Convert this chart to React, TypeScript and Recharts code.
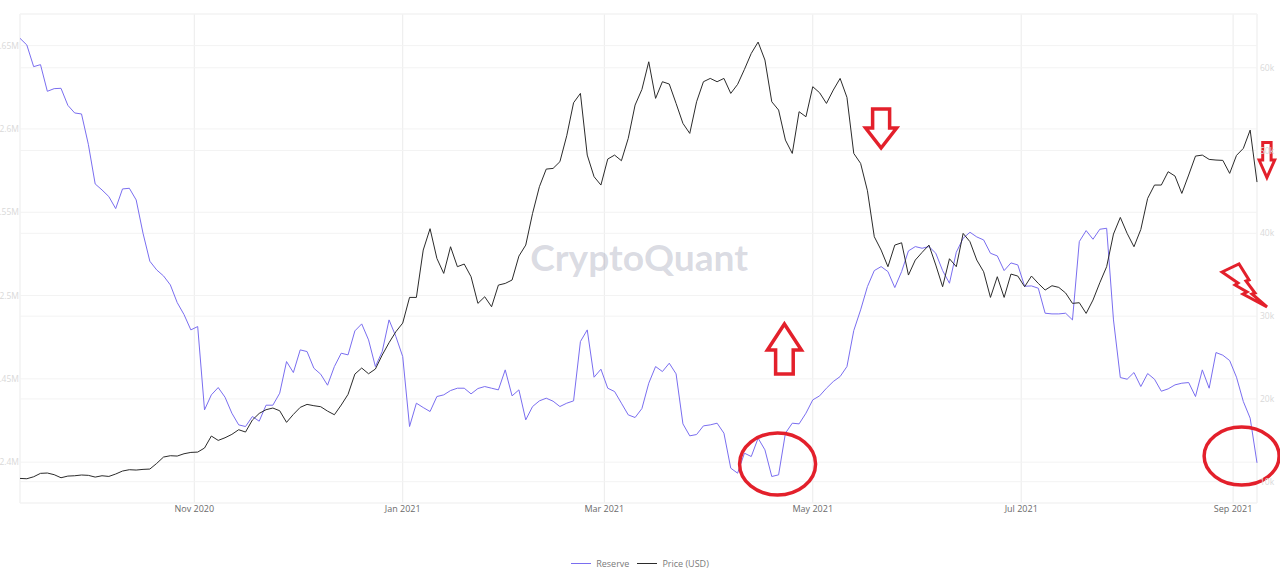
import React from "react";
import {
    LineChart,
    Line,
    XAxis,
    YAxis,
    CartesianGrid,
    Legend,
    ReferenceDot,
} from "recharts";

// one point every 2 days, starting 11 Sep 2020
const START = Date.UTC(2020, 8, 11);
const DAY = 86400000;
const STEP_DAYS = 2;
const LAST_DAY = 362;

// exchange reserve, millions of BTC
const reserve = [
    2.6544, 2.6504, 2.6374, 2.6386, 2.6226, 2.6242, 2.6244, 2.6142, 2.6096, 2.609,
    2.5908, 2.567, 2.5634, 2.5594, 2.5522, 2.564, 2.5644, 2.5574, 2.5374, 2.5206,
    2.5154, 2.5118, 2.5064, 2.4958, 2.4886, 2.4794, 2.4814, 2.4314, 2.4404, 2.4448,
    2.439, 2.4294, 2.4224, 2.4214, 2.4274, 2.4246, 2.4342, 2.4342, 2.4414, 2.4604,
    2.4538, 2.4674, 2.4664, 2.4564, 2.4528, 2.4462, 2.4574, 2.4654, 2.4644, 2.4788,
    2.483, 2.4734, 2.4574, 2.4664, 2.4854, 2.4754, 2.4634, 2.4214, 2.4354, 2.4328,
    2.4304,
    2.4394, 2.4404, 2.443, 2.4444, 2.4444, 2.441, 2.4442, 2.4454, 2.4444, 2.4434,
    2.4554, 2.4398, 2.4434, 2.4254, 2.4334, 2.4368, 2.4384, 2.4366, 2.4334, 2.4354,
    2.4368, 2.4724, 2.4794, 2.451, 2.4558, 2.4444, 2.4424, 2.4354, 2.4284, 2.4268,
    2.4322, 2.4474, 2.4574, 2.4544, 2.4594, 2.453, 2.423, 2.4158, 2.4166, 2.4218,
    2.4224, 2.4234, 2.4174, 2.3964, 2.3934, 2.4054, 2.4034, 2.4144, 2.4074, 2.3914,
    2.3924, 2.4174, 2.4234, 2.423, 2.4294, 2.4374, 2.4398, 2.4444, 2.4484, 2.4514,
    2.4574, 2.479, 2.4914, 2.5054, 2.515, 2.5174, 2.5144, 2.5048, 2.5144, 2.5268,
    2.5294, 2.5284, 2.5294, 2.5254, 2.515, 2.5074, 2.526, 2.5344, 2.538, 2.5352,
    2.5334, 2.5254, 2.5238, 2.515, 2.5196, 2.5184, 2.5056, 2.5058, 2.5044, 2.4894,
    2.489, 2.489, 2.4894, 2.4854, 2.5324, 2.539, 2.5338, 2.5398, 2.5404, 2.4854,
    2.4508, 2.4498, 2.4538, 2.4454, 2.4532, 2.4498, 2.4426, 2.444, 2.4464, 2.4474,
    2.4478, 2.4394, 2.4554, 2.4444, 2.4658, 2.4642, 2.461, 2.451, 2.4364, 2.4264,
    2.3996,
];

// BTC price, USD
const price = [
    10400, 10360, 10600, 11010, 11050, 10850, 10480, 10680, 10720, 10810,
    10770, 10560, 10720, 10640, 10930, 11290, 11450, 11410, 11490, 11530,
    12210, 12980, 13140, 13100, 13380, 13540, 13580, 14070, 15520, 14990,
    15310, 15720, 16280, 16000, 17450, 18250, 18700, 18900, 18570, 17170,
    18130, 18980, 19340, 19180, 19060, 18530, 18090, 19260, 20550, 23000,
    23730, 23040, 23610, 25300, 26790, 28120, 29160, 32260, 32260, 37980,
    40560,
    36970, 35160, 38380, 35970, 36290, 34760, 31540, 32340, 31130, 33750,
    33950, 34360, 37250, 38580, 42410, 45630, 47760, 47840, 48650, 51790,
    55770, 56900, 49450, 46840, 45830, 48970, 49450, 48770, 51470, 55490,
    57380, 60720, 56300, 58310, 58030, 55690, 53280, 52070, 55890, 58310,
    58710, 58310, 58710, 56900, 57990, 59800, 61730, 63100, 60930, 55890,
    54890, 51260, 49650, 54690, 54080, 57710, 56980, 55690, 57300, 58710,
    56420, 49650, 48450, 45140, 39590, 37980, 35970, 38580, 38860, 34960,
    36770, 37700, 38580, 36170, 33550, 36930, 35970, 39990, 38990, 36770,
    35360, 32260, 34760, 32260, 35080, 34840, 33550, 34840, 33950, 33150,
    33670, 33470, 32790, 31540, 31620, 30330, 31940, 34030, 35970, 39910,
    41920, 39990, 38380, 40470, 44220, 45830, 45830, 47440, 46920, 44820,
    47040, 49330, 49450, 48930, 48850, 48810, 47240, 49410, 50260, 52470,
    46190,
];

const monthTicks = ["2020-11-01", "2021-01-01", "2021-03-01", "2021-05-01", "2021-07-01", "2021-09-01"];
const reserveTicks = [2.4, 2.45, 2.5, 2.55, 2.6, 2.65];
const priceTicks = [10000, 20000, 30000, 40000, 50000, 60000];
const MONTHS = ["Jan", "Feb", "Mar", "Apr", "May", "Jun", "Jul", "Aug", "Sep", "Oct", "Nov", "Dec"];

// hand drawn marks on top of the chart: day offset + price level
const notes = [
    { kind: "arrowDown", day: 252.0, level: 52720 },
    { kind: "arrowUp", day: 223.7, level: 25910 },
    { kind: "ring", day: 221.7, level: 12140 },
    { kind: "ringRight", day: 357.5, level: 13100 },
    { kind: "arrowDownSmall", day: 364.9, level: 48850 },
    { kind: "bolt", day: 358.2, level: 33640 },
];

const RED = "#e3202b";
const RESERVE_COLOR = "#7a6ef0";
const PRICE_COLOR = "#2b2b2b";

const data = reserve.map((r, i) => ({
    t: START + i * STEP_DAYS * DAY,
    reserve: r,
    price: price[i],
}));

function fmtMonth(t: number) {
    const d = new Date(t);
    return `${MONTHS[d.getUTCMonth()]} ${d.getUTCFullYear()}`;
}

function arrowDown(cx: number, cy: number, hw: number, top: number, ww: number, tip: number) {
    return `M${cx - hw},${cy - top} L${cx + hw},${cy - top} L${cx + hw},${cy} L${cx + ww},${cy} L${cx},${cy + tip} L${cx - ww},${cy} L${cx - hw},${cy} Z`;
}

function arrowUp(cx: number, cy: number) {
    return `M${cx},${cy - 26} L${cx + 17},${cy} L${cx + 8.8},${cy} L${cx + 8.8},${cy + 24} L${cx - 8.8},${cy + 24} L${cx - 8.8},${cy} L${cx - 17},${cy} Z`;
}

const BOLT = [
    [-22, -14], [-5, -22], [5, -6], [2, -5], [11, 7], [8, 8], [23, 21],
    [-1, 8], [3, 6], [-9, -1], [-6, -3],
];

function NoteShape(kind: string) {
    return (props: any) => {
        const { cx, cy } = props;
        if (cx == null || cy == null) return <g />;
        const common = { fill: "none", stroke: RED, strokeLinejoin: "miter" as const };
        if (kind === "arrowDown")
            return <path d={arrowDown(cx, cy, 8.5, 19, 15.5, 20)} {...common} strokeWidth={3.5} />;
        if (kind === "arrowDownSmall")
            return <path d={arrowDown(cx, cy, 4.2, 17.5, 7.8, 17.5)} {...common} strokeWidth={3} />;
        if (kind === "arrowUp") return <path d={arrowUp(cx, cy)} {...common} strokeWidth={3.5} />;
        if (kind === "ring") return <ellipse cx={cx} cy={cy} rx={38} ry={31} {...common} strokeWidth={3.5} />;
        if (kind === "ringRight")
            return <ellipse cx={cx} cy={cy} rx={37.5} ry={29} {...common} strokeWidth={3.5} />;
        const pts = BOLT.map(([x, y]) => `${cx + x},${cy + y}`).join(" ");
        return <polygon points={pts} {...common} strokeWidth={3} />;
    };
}

function Watermark(props: any) {
    const { cx, cy } = props;
    if (cx == null) return <g />;
    return (
        <text
            x={cx}
            y={cy}
            textAnchor="middle"
            dominantBaseline="central"
            fontFamily="Lato, 'Open Sans', sans-serif"
            fontWeight={700}
            fontSize={37}
            textLength={218}
            lengthAdjust="spacingAndGlyphs"
            fill="#8d8fa8"
            fillOpacity={0.33}
        >
            CryptoQuant
        </text>
    );
}

function LegendBox() {
    const item = (color: string, label: string) => (
        <div style={{ display: "flex", alignItems: "center", gap: 5 }}>
            <div style={{ width: 20, height: 0, borderTop: `1px solid ${color}` }} />
            <span>{label}</span>
        </div>
    );
    return (
        <div
            style={{
                display: "flex",
                justifyContent: "center",
                alignItems: "center",
                gap: 8,
                height: 20,
                paddingTop: 2,
                boxSizing: "border-box",
                fontFamily: "'Open Sans', sans-serif",
                fontSize: 9,
                color: "#7a7a7a",
            }}
        >
            {item(RESERVE_COLOR, "Reserve")}
            {item(PRICE_COLOR, "Price (USD)")}
        </div>
    );
}

export default function App() {
    const tickFont = { fontSize: 9, fontFamily: "'Open Sans', sans-serif" };
    const sideFont = { fontSize: 8.5, fontFamily: "'Open Sans', sans-serif", fill: "#d9d9d9" };
    return (
        <div style={{ position: "absolute", left: 0, top: 0, background: "#fff" }}>
            <LineChart
                width={1280}
                height={572}
                data={data}
                margin={{ top: 14, right: 0, left: 0, bottom: 0 }}
                style={{ fontFamily: "'Open Sans', sans-serif" }}
            >
                <CartesianGrid horizontal={false} stroke="#ebebeb" yAxisId="reserve" />
                <CartesianGrid vertical={false} stroke="#f3f3f3" yAxisId="reserve" />
                <CartesianGrid vertical={false} stroke="#f3f3f3" yAxisId="price" />
                <XAxis
                    dataKey="t"
                    type="number"
                    scale="time"
                    domain={[START, START + LAST_DAY * DAY]}
                    ticks={monthTicks.map((s) => Date.parse(s))}
                    tickFormatter={fmtMonth}
                    interval={0}
                    axisLine={false}
                    tickLine={false}
                    tickSize={0}
                    tickMargin={3}
                    height={49}
                    tick={{ ...tickFont, fill: "#6b6b6b" }}
                />
                <YAxis
                    yAxisId="reserve"
                    orientation="left"
                    width={20}
                    domain={[2.3755, 2.669]}
                    ticks={reserveTicks}
                    tickFormatter={(v) => `${v}M`}
                    interval={0}
                    axisLine={false}
                    tickLine={false}
                    tickSize={0}
                    tickMargin={1}
                    tick={sideFont}
                />
                <YAxis
                    yAxisId="price"
                    orientation="right"
                    width={23}
                    domain={[7430, 66490]}
                    ticks={priceTicks}
                    tickFormatter={(v) => `${v / 1000}k`}
                    interval={0}
                    axisLine={false}
                    tickLine={false}
                    tickSize={0}
                    tickMargin={3}
                    tick={sideFont}
                />
                <ReferenceDot
                    yAxisId="price"
                    x={START + 181.2 * DAY}
                    y={37260}
                    ifOverflow="visible"
                    shape={Watermark}
                />
                <Line
                    yAxisId="reserve"
                    dataKey="reserve"
                    name="Reserve"
                    stroke={RESERVE_COLOR}
                    strokeWidth={1}
                    dot={false}
                    type="linear"
                    isAnimationActive={false}
                />
                <Line
                    yAxisId="price"
                    dataKey="price"
                    name="Price (USD)"
                    stroke={PRICE_COLOR}
                    strokeWidth={1}
                    dot={false}
                    type="linear"
                    isAnimationActive={false}
                />
                {notes.map((n, i) => (
                    <ReferenceDot
                        key={`note-${i}`}
                        yAxisId="price"
                        x={START + n.day * DAY}
                        y={n.level}
                        ifOverflow="visible"
                        shape={NoteShape(n.kind)}
                    />
                ))}
                <Legend verticalAlign="bottom" align="center" content={() => <LegendBox />} />
            </LineChart>
        </div>
    );
}
